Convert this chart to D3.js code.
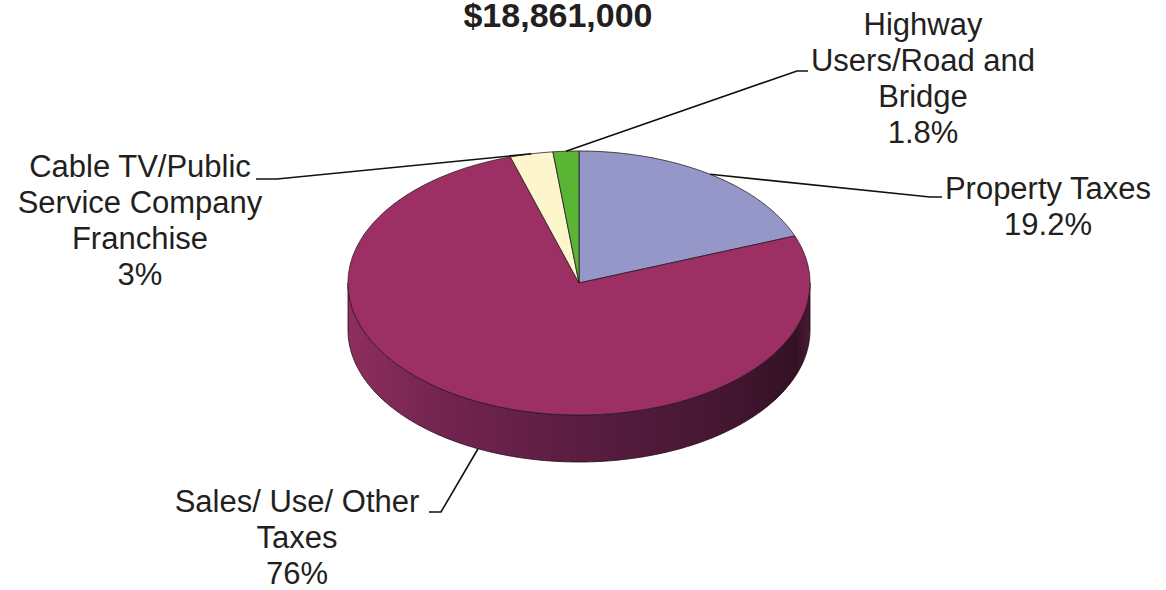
<!DOCTYPE html>
<html>
<head>
<meta charset="utf-8">
<script src="https://cdn.jsdelivr.net/npm/d3@7"></script>
<style>
  html, body { margin: 0; padding: 0; background: #ffffff; }
  svg { display: block; }
  text { font-family: "Liberation Sans", Arial, sans-serif; fill: #231f20; }
</style>
</head>
<body>
<svg id="chart" width="1166" height="590"></svg>
<script>
// Revenue sources (percent of total)
const categories = ["Property Taxes", "Sales/ Use/ Other Taxes", "Cable TV/Public Service Company Franchise", "Highway Users/Road and Bridge"];
const shares = [19.2, 76, 3, 1.8];
const shareLabels = ["19.2%", "76%", "3%", "1.8%"];
const labelLines = [
  ["Property Taxes"],
  ["Sales/ Use/ Other", "Taxes"],
  ["Cable TV/Public", "Service Company", "Franchise"],
  ["Highway", "Users/Road and", "Bridge"]
];
const totalLabel = "$18,861,000";

const topColors = ["#9497c8", "#9c2f63", "#fdf6cc", "#5bb534"];

const W = 1166, H = 590;
const cx = 579, cy = 283, rx = 231, ry = 132, depth = 47;

const svg = d3.select("#chart");

// Elliptical projection of a pie angle (radians, clockwise from 12 o'clock)
const pt = (a, dy = 0) => [cx + rx * Math.sin(a), cy - ry * Math.cos(a) + dy];

function arcPoints(a0, a1, dy = 0) {
  const n = Math.max(2, Math.ceil(Math.abs(a1 - a0) / (Math.PI / 360)));
  return d3.range(n + 1).map(i => pt(a0 + (a1 - a0) * i / n, dy));
}

const pie = d3.pie().sort(null).value(d => d)(shares);

// Side wall gradient
const defs = svg.append("defs");
const grad = defs.append("linearGradient")
  .attr("id", "sideGrad")
  .attr("gradientUnits", "userSpaceOnUse")
  .attr("x1", cx - rx).attr("x2", cx + rx).attr("y1", 0).attr("y2", 0);
[[0, "#8e2e5d"], [0.2, "#732450"], [0.5, "#5a1d41"], [0.8, "#451732"], [0.97, "#351124"], [1, "#4a1a33"]]
  .forEach(([o, c]) => grad.append("stop").attr("offset", o).attr("stop-color", c));

const line = d3.line();

// Front-facing side walls
pie.forEach((s, i) => {
  const a0 = Math.max(s.startAngle, Math.PI / 2);
  const a1 = Math.min(s.endAngle, 3 * Math.PI / 2);
  if (a1 <= a0) return;
  const pts = arcPoints(a0, a1).concat(arcPoints(a1, a0, depth));
  svg.append("path")
    .attr("d", line(pts) + "Z")
    .attr("fill", i === 1 ? "url(#sideGrad)" : d3.color(topColors[i]).darker(1))
    .attr("stroke", "#1e0a14")
    .attr("stroke-width", 0.8);
});

// Top faces
pie.forEach((s, i) => {
  const pts = [[cx, cy]].concat(arcPoints(s.startAngle, s.endAngle));
  svg.append("path")
    .attr("d", line(pts) + "Z")
    .attr("fill", topColors[i])
    .attr("stroke", "#2a1a22")
    .attr("stroke-width", 0.8)
    .attr("stroke-linejoin", "round");
});

// Label layout: text anchor point and leader elbow
const labelLayout = [
  { x: 1048, y: 199, elbow: [930, 197], end: [942, 197] },
  { x: 297, y: 512, elbow: [441, 512], end: [429, 512] },
  { x: 140, y: 177, elbow: [277, 179], end: [256, 179] },
  { x: 923, y: 35, elbow: [797, 71], end: [808, 71] }
];
const lineH = 36;

pie.forEach((s, i) => {
  const mid = (s.startAngle + s.endAngle) / 2;
  const front = Math.cos(mid) < -0.3;
  const anchor = pt(mid, front ? depth : 0);
  const L = labelLayout[i];
  svg.append("path")
    .attr("d", line([anchor, L.elbow, L.end]))
    .attr("fill", "none")
    .attr("stroke", "#111")
    .attr("stroke-width", 1.6);

  const t = svg.append("text")
    .attr("text-anchor", "middle")
    .attr("font-size", 31);
  labelLines[i].concat([shareLabels[i]]).forEach((txt, k) => {
    t.append("tspan").attr("x", L.x).attr("y", L.y + k * lineH).text(txt);
  });
});

// Total
svg.append("text")
  .attr("x", 558).attr("y", 27)
  .attr("text-anchor", "middle")
  .attr("font-size", 34)
  .attr("font-weight", "bold")
  .text(totalLabel);
</script>
</body>
</html>
